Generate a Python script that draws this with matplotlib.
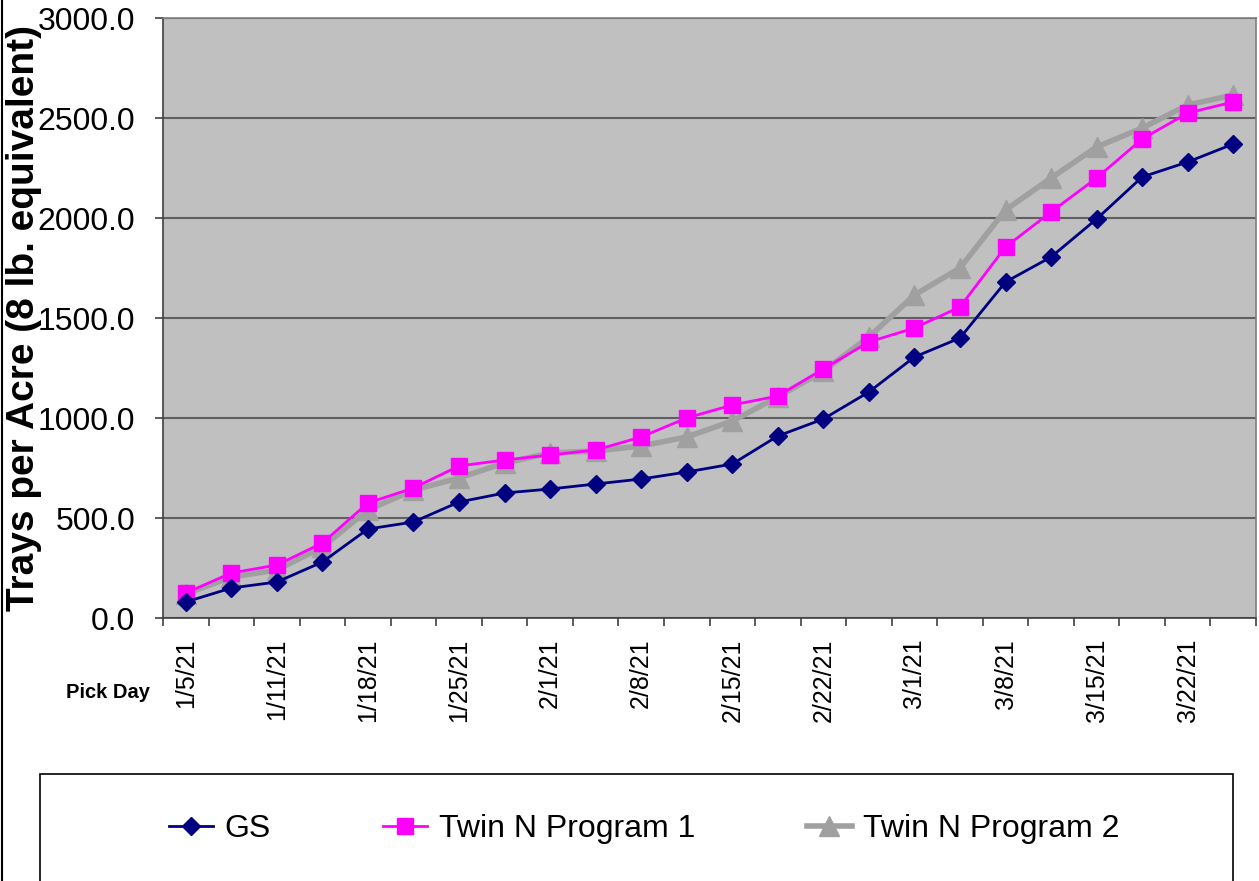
import matplotlib
matplotlib.use("Agg")
import matplotlib.pyplot as plt
from matplotlib.patches import Rectangle
from matplotlib.lines import Line2D

plt.rcParams['font.family'] = ['Liberation Sans', 'DejaVu Sans']

pick_days = ["1/5/21", "1/8/21", "1/11/21", "1/15/21", "1/18/21", "1/22/21",
             "1/25/21", "1/29/21", "2/1/21", "2/5/21", "2/8/21", "2/12/21",
             "2/15/21", "2/19/21", "2/22/21", "2/26/21", "3/1/21", "3/5/21",
             "3/8/21", "3/12/21", "3/15/21", "3/19/21", "3/22/21", "3/26/21"]
gs = [80, 150, 180, 280, 445, 480, 580, 625, 645, 670, 695, 730,
      770, 910, 995, 1130, 1305, 1400, 1680, 1805, 1995, 2205, 2280, 2370]
twin1 = [125, 225, 265, 375, 575, 650, 760, 790, 815, 840, 905, 1000,
         1065, 1110, 1245, 1380, 1450, 1555, 1855, 2030, 2200, 2395, 2525, 2580]
twin2 = [120, 205, 240, 355, 540, 640, 700, 775, 825, 835, 860, 905,
         985, 1105, 1235, 1405, 1615, 1750, 2040, 2200, 2355, 2450, 2565, 2615]
series_names = ["GS", "Twin N Program 1", "Twin N Program 2"]
y_ticks = [0, 500, 1000, 1500, 2000, 2500, 3000]

W, H = 1259, 881
fig = plt.figure(figsize=(W / 100, H / 100), dpi=100)
ax = fig.add_axes([163 / W, (H - 618) / H, (1256 - 163) / W, 600 / H])
ax.set_facecolor('#C0C0C0')

x = list(range(len(pick_days)))
l1, = ax.plot(x, gs, color='#000080', lw=2, marker='D', ms=9, zorder=5)
l2, = ax.plot(x, twin1, color='#FF00FF', lw=2, marker='s', ms=11, zorder=4)
l3, = ax.plot(x, twin2, color='#A0A0A0', lw=4, marker='^', ms=14, zorder=3)

ax.set_xlim(-0.5, len(pick_days) - 0.5)
ax.set_ylim(0, 3000)
ax.set_yticks(y_ticks)
ax.set_yticklabels([f"{v:.1f}" for v in y_ticks], fontsize=23)
ax.yaxis.grid(True, color='#606060', lw=1.5)
ax.set_axisbelow(True)
ax.tick_params(axis='y', length=6, width=1.2, color='#404040', pad=14)

ax.set_xticks([i - 0.5 for i in range(len(pick_days) + 1)])
ax.set_xticklabels([])
ax.tick_params(axis='x', which='major', length=6, width=1.2, color='#404040')
ax.set_xticks(x[::2], minor=True)
ax.set_xticklabels(pick_days[::2], minor=True, rotation=90, fontsize=18)
ax.tick_params(axis='x', which='minor', length=0, pad=15)

for s in ['top', 'right']:
    ax.spines[s].set_color('#808080')
    ax.spines[s].set_linewidth(1.2)
for s in ['left', 'bottom']:
    ax.spines[s].set_color('#404040')
    ax.spines[s].set_linewidth(1.2)

fig.text(24 / W, (H - 318) / H, "Trays per Acre (8 lb. equivalent)", rotation=90,
         ha='center', va='center', fontsize=28, fontweight='bold')
fig.text(108 / W, (H - 693) / H, "Pick Day", ha='center', va='center',
         fontsize=14.5, fontweight='bold')

# figure left border
fig.add_artist(Line2D([1.5 / W, 1.5 / W], [0, 1], color='black', lw=1.5))
# legend box
fig.add_artist(Rectangle((40 / W, -0.05), (1233 - 40) / W, (H - 774) / H + 0.05,
                         transform=fig.transFigure, facecolor='white',
                         edgecolor='black', lw=1.2, zorder=0))
fig.legend([l1, l2, l3], series_names, loc='center left',
           bbox_to_anchor=(140 / W, (H - 829) / H), ncol=3, frameon=False,
           fontsize=23, handlelength=1.4, handletextpad=0.35, columnspacing=3.5)

fig.savefig("out.png", dpi=100)
